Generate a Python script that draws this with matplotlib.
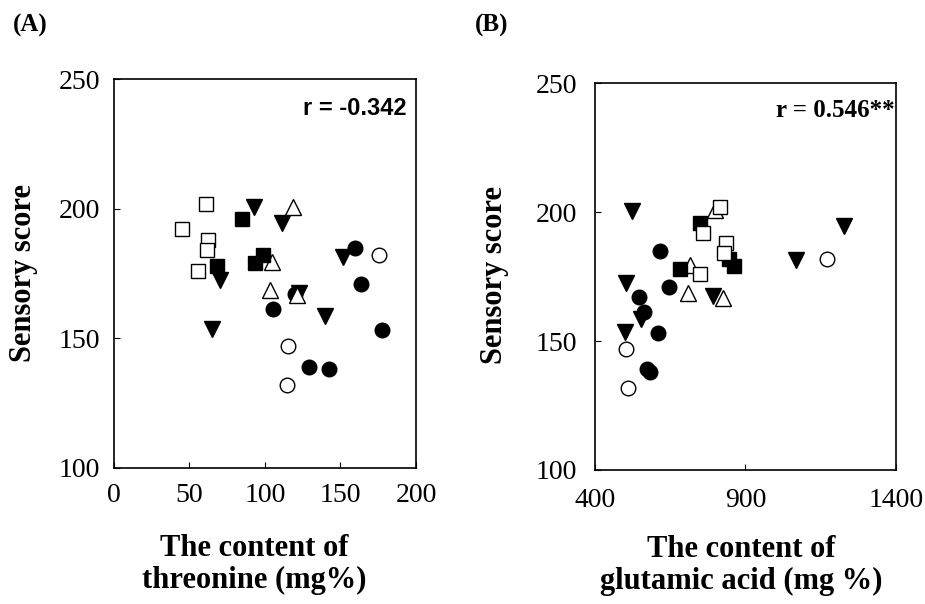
import matplotlib.pyplot as plt

plt.rcParams['font.family'] = ['Liberation Serif', 'DejaVu Serif']

# sensory scores per group (shared by both panels)
score_open_sq = [202, 192, 188, 184, 176]
score_fill_sq = [196, 178, 182, 179]
score_fill_tri = [200.6, 194.5, 172.6, 153.5, 181.4, 167.6, 158.4]
score_open_tri = [200.8, 179.4, 168.5, 166.6]
score_fill_ci = [185, 171, 153.1, 161.2, 139, 138, 167.2]
score_open_ci = [182, 147.1, 132]

# (A) threonine, mg%
thr_open_sq = [60.7, 45.3, 62.0, 61.6, 55.6]
thr_fill_sq = [84.8, 68.4, 98.9, 93.4]
thr_fill_tri = [92.7, 111.5, 70.2, 64.9, 151.7, 122.7, 140.0]
thr_open_tri = [118.5, 104.9, 103.3, 121.0]
thr_fill_ci = [159.8, 163.4, 177.7, 105.3, 129.1, 142.4, 120.1]
thr_open_ci = [175.7, 115.0, 114.8]

# (B) glutamic acid, mg %
glu_open_sq = [816, 758, 836, 830, 749]
glu_fill_sq = [750, 681, 845, 863]
glu_fill_tri = [522, 1227, 503, 501, 1067, 793, 552]
glu_open_tri = [799, 717, 709, 824]
glu_fill_ci = [617, 647, 608, 564, 572, 584, 547]
glu_open_ci = [503, 511, 1170]
score_open_ci_b = [146.8, 131.7, 181.8]


def draw_points(ax, xs, ys):
    # order matters: later groups sit on top
    styles = [
        ('o', 'black', 10.5),
        ('o', 'white', 10.5),
        ('v', 'black', 11),
        ('^', 'white', 11),
        ('s', 'black', 9.5),
        ('s', 'white', 9.5),
    ]
    for (m, fc, ms), x, y in zip(styles, xs, ys):
        ax.plot(x, y, linestyle='none', marker=m, markersize=ms,
                markerfacecolor=fc, markeredgecolor='black', markeredgewidth=1)


def style_axes(ax, ypad, xpad):
    for sp in ax.spines.values():
        sp.set_linewidth(1.2)
    ax.tick_params(direction='in', length=4, width=0.8, labelsize=20,
                   top=False, right=False)
    ax.tick_params(axis='y', pad=ypad)
    ax.tick_params(axis='x', pad=xpad)
    ax.set_ylim(100, 250)
    ax.set_yticks([100, 150, 200, 250])


lab = dict(fontsize=22, fontweight='bold', linespacing=1.12)

fig = plt.figure(figsize=(9.25, 6.04), dpi=100)

axA = fig.add_axes([0.1232, 0.2257, 0.3265, 0.643])
draw_points(axA,
            [thr_fill_ci, thr_open_ci, thr_fill_tri, thr_open_tri, thr_fill_sq, thr_open_sq],
            [score_fill_ci, score_open_ci, score_fill_tri, score_open_tri, score_fill_sq, score_open_sq])
style_axes(axA, 10, 11)
axA.set_xlim(0, 200)
axA.set_xticks([0, 50, 100, 150, 200])
axA.set_xlabel('The content of\nthreonine (mg%)', **lab)
axA.xaxis.set_label_coords(0.464, -0.172)
axA.set_ylabel('Sensory score', **lab)
axA.yaxis.set_label_coords(-0.252, 0.5)
axA.text(0.97, 0.955, 'r = -0.342', transform=axA.transAxes, ha='right', va='top',
         fontsize=17, fontweight='bold', family=['Liberation Sans', 'DejaVu Sans'])

axB = fig.add_axes([0.6432, 0.2219, 0.3254, 0.640])
draw_points(axB,
            [glu_fill_ci, glu_open_ci, glu_fill_tri, glu_open_tri, glu_fill_sq, glu_open_sq],
            [score_fill_ci, score_open_ci_b, score_fill_tri, score_open_tri, score_fill_sq, score_open_sq])
style_axes(axB, 13, 13)
axB.set_xlim(400, 1400)
axB.set_xticks([400, 900, 1400])
axB.set_xlabel('The content of\nglutamic acid (mg %)', **lab)
axB.xaxis.set_label_coords(0.485, -0.168)
axB.set_ylabel('Sensory score', **lab)
axB.yaxis.set_label_coords(-0.286, 0.504)
axB.text(0.995, 0.96, 'r = 0.546**', transform=axB.transAxes, ha='right', va='top',
         fontsize=18, fontweight='bold')

fig.text(13 / 925, 1 - 25 / 604, '(A)', fontsize=18, fontweight='bold', va='center')
fig.text(475 / 925, 1 - 25 / 604, '(B)', fontsize=18, fontweight='bold', va='center')

fig.savefig('out.png', dpi=100)
